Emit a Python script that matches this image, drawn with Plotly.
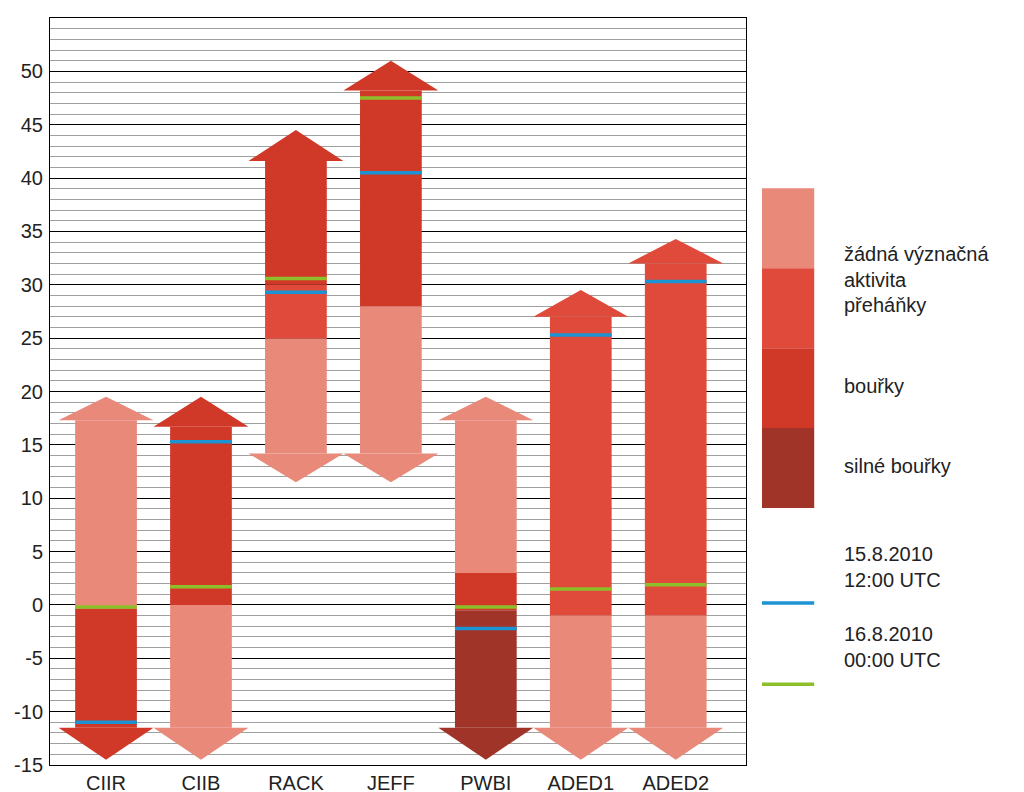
import plotly.graph_objects as go

# colours of the categories
C_NONE = "#e8897a"
C_SHOW = "#e04a3a"
C_STORM = "#d03828"
C_SEVERE = "#a03428"
BLUE = "#1c93d2"
GREEN = "#8dbf2a"

stations = ["CIIR", "CIIB", "RACK", "JEFF", "PWBI", "ADED1", "ADED2"]
# segments per station: (bottom, top, colour)
segments = [
    [(-11.5, -0.3, C_STORM), (-0.3, 17.3, C_NONE)],
    [(-11.5, 0.0, C_NONE), (0.0, 16.7, C_STORM)],
    [(14.2, 25.0, C_NONE), (25.0, 30.0, C_SHOW), (30.0, 41.6, C_STORM)],
    [(14.2, 28.0, C_NONE), (28.0, 48.2, C_STORM)],
    [(-11.5, -0.5, C_SEVERE), (-0.5, 3.0, C_STORM), (3.0, 17.3, C_NONE)],
    [(-11.5, -1.0, C_NONE), (-1.0, 27.0, C_SHOW)],
    [(-11.5, -1.0, C_NONE), (-1.0, 32.0, C_SHOW)],
]
up_tip = [19.5, 19.5, 44.5, 51.0, 19.5, 29.5, 34.3]
down_tip = [-14.5, -14.5, 11.5, 11.5, -14.5, -14.5, -14.5]
blue_val = [-11.0, 15.3, 29.3, 40.5, -2.2, 25.3, 30.3]
green_val = [-0.2, 1.7, 30.6, 47.5, -0.2, 1.5, 1.9]
y_ticks = list(range(-15, 56, 5))

BODY = 0.65
HEAD = 1.0

fig = go.Figure()
for i, segs in enumerate(segments):
    for b, t, c in segs:
        fig.add_trace(go.Bar(x=[i], y=[t - b], base=[b], width=BODY,
                             marker=dict(color=c, line=dict(width=0)), showlegend=False))
    top_b, top_t, top_c = segs[-1]
    fig.add_trace(go.Scatter(x=[i - HEAD / 2, i + HEAD / 2, i, i - HEAD / 2],
                             y=[top_t, top_t, up_tip[i], top_t], fill="toself",
                             fillcolor=top_c, line=dict(width=0), mode="lines", showlegend=False))
    bot_b, bot_t, bot_c = segs[0]
    fig.add_trace(go.Scatter(x=[i - HEAD / 2, i + HEAD / 2, i, i - HEAD / 2],
                             y=[bot_b, bot_b, down_tip[i], bot_b], fill="toself",
                             fillcolor=bot_c, line=dict(width=0), mode="lines", showlegend=False))
    for v, col in ((blue_val[i], BLUE), (green_val[i], GREEN)):
        fig.add_trace(go.Scatter(x=[i - BODY / 2, i + BODY / 2], y=[v, v], mode="lines",
                                 line=dict(color=col, width=3.5), showlegend=False))

# legend blocks
shapes = []
legend_cols = [C_NONE, C_SHOW, C_STORM, C_SEVERE]
legend_txt = ["žádná význačná<br>aktivita", "přeháňky", "bouřky", "silné bouřky"]
legend_y = [0.701, 0.616, 0.507, 0.400]
tops = [0.772, 0.665, 0.558, 0.451, 0.344]
for k, c in enumerate(legend_cols):
    shapes.append(dict(type="rect", xref="paper", yref="paper", x0=1.023, x1=1.098,
                       y0=tops[k + 1], y1=tops[k], fillcolor=c, line=dict(width=0), layer="above"))
shapes.append(dict(type="line", xref="paper", yref="paper", x0=1.023, x1=1.098, y0=0.217, y1=0.217,
                   line=dict(color=BLUE, width=3.5)))
shapes.append(dict(type="line", xref="paper", yref="paper", x0=1.023, x1=1.098, y0=0.108, y1=0.108,
                   line=dict(color=GREEN, width=3.5)))
annotations = [dict(x=1.138, y=y, xref="paper", yref="paper", text=t, showarrow=False,
                    xanchor="left", align="left", font=dict(size=20, color="#222"))
               for t, y in zip(legend_txt, legend_y)]
annotations += [
    dict(x=1.138, y=0.230, xref="paper", yref="paper", text="15.8.2010<br>12:00 UTC", showarrow=False,
         xanchor="left", align="left", font=dict(size=20, color="#222")),
    dict(x=1.138, y=0.123, xref="paper", yref="paper", text="16.8.2010<br>00:00 UTC", showarrow=False,
         xanchor="left", align="left", font=dict(size=20, color="#222")),
]

fig.update_layout(
    width=1024, height=792, margin=dict(l=42, r=286, t=10, b=35),
    plot_bgcolor="white", paper_bgcolor="white", barmode="overlay",
    font=dict(family="Arial, Liberation Sans", size=20, color="#222"),
    shapes=shapes, annotations=annotations,
    xaxis=dict(range=[-0.59, 6.74], tickmode="array", tickvals=list(range(7)), ticktext=stations,
               showgrid=False, zeroline=False, showline=True, linecolor="black", mirror=True,
               ticks="", automargin=False),
    yaxis=dict(range=[-15, 55], tickmode="array", tickvals=y_ticks,
               ticktext=[str(v) for v in y_ticks], ticklabelstandoff=2,
               showgrid=True, gridcolor="black", gridwidth=1, automargin=False,
               zeroline=False, showline=True, linecolor="black", mirror=True,
               minor=dict(dtick=1, showgrid=True, gridcolor="#a0a0a0", gridwidth=1)),
)
fig.write_html("out.html")
